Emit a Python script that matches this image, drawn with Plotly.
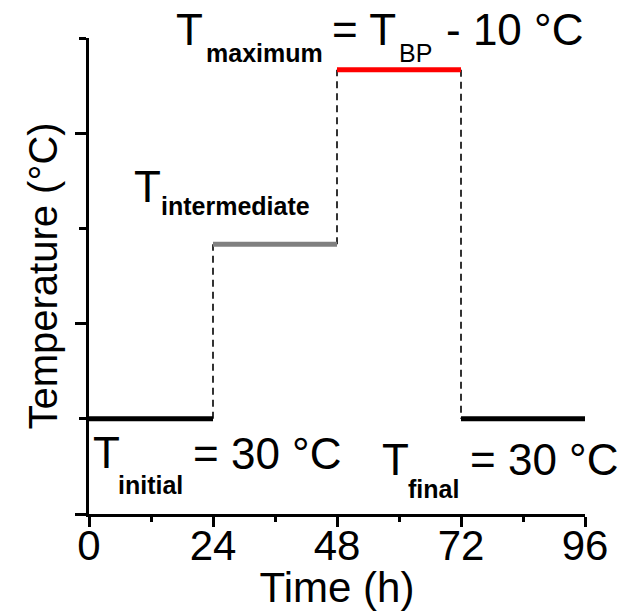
import plotly.graph_objects as go

# ---- data ----
phase_start = [0, 24, 48, 72]
phase_end = [24, 48, 72, 96]
phase_temp = [30, 85, 140, 30]
x_ticks = [0, 24, 48, 72, 96]
x_tick_labels = ["0", "24", "48", "72", "96"]

# ---- styles ----
phase_colors = ["#000000", "#808080", "#ff0000", "#000000"]
FONT = "Liberation Sans, Arial, sans-serif"

W, H = 628, 611
L, R, T, B = 89, 43, 38, 97

fig = go.Figure()

# dashed transitions
for i in range(len(phase_temp) - 1):
    fig.add_trace(go.Scatter(
        x=[phase_end[i], phase_start[i + 1]],
        y=[phase_temp[i], phase_temp[i + 1]],
        mode="lines", line=dict(color="black", width=1.6, dash="7px,5px"),
        showlegend=False, hoverinfo="skip"))

# phases
for i in range(len(phase_temp)):
    fig.add_trace(go.Scatter(
        x=[phase_start[i], phase_end[i]], y=[phase_temp[i], phase_temp[i]],
        mode="lines", line=dict(color=phase_colors[i], width=5),
        showlegend=False, hoverinfo="skip"))


def P(px, py):
    return (px - L) / (W - L - R), (H - B - py) / (H - T - B)


anns = []


def txt(px, py, text, size, bold=False):
    x, y = P(px, py)
    if bold:
        text = "<b>" + text + "</b>"
    anns.append(dict(x=x, y=y, xref="paper", yref="paper", text=text,
                     showarrow=False, xanchor="left", yanchor="middle",
                     font=dict(family=FONT, size=size, color="black"),
                     borderpad=0))


BIG, SUB = 44, 25
# T_initial = 30 °C
txt(92, 452, "T", BIG)
txt(117, 485, "initial", SUB, True)
txt(192, 453, "= 30 °C", BIG)
# T_final = 30 °C
txt(381, 459, "T", BIG)
txt(407, 489, "final", SUB, True)
txt(469, 459, "= 30 °C", BIG)
# T_intermediate
txt(133, 186, "T", BIG)
txt(160, 206, "intermediate", SUB, True)
# T_maximum = T_BP - 10 °C
txt(175, 29, "T", BIG)
txt(205, 53, "maximum", SUB, True)
txt(331, 29, "= T", BIG)
txt(398, 53, "BP", SUB)
txt(445, 29, "- 10 °C", BIG)

fig.update_layout(
    width=W, height=H,
    margin=dict(l=L, r=R, t=T, b=B, autoexpand=False),
    paper_bgcolor="white", plot_bgcolor="white",
    font=dict(family=FONT, color="black"),
    annotations=anns,
    xaxis=dict(range=[0, 96], tickvals=x_ticks, ticktext=x_tick_labels,
               automargin=False, ticklabelstandoff=-17,
               showline=True, linewidth=3, linecolor="black",
               ticks="outside", ticklen=10, tickwidth=2.5, tickcolor="black",
               minor=dict(dtick=12, ticks="outside", ticklen=5, tickwidth=2.5,
                          tickcolor="black"),
               showgrid=False, zeroline=False,
               tickfont=dict(size=42, family=FONT),
               title=dict(text="Time (h)", font=dict(size=42, family=FONT),
                          standoff=0)),
    yaxis=dict(range=[0, 150], dtick=60, tick0=0,
               automargin=False,
               showline=True, linewidth=3, linecolor="black",
               ticks="outside", ticklen=11, tickwidth=2.5, tickcolor="black",
               minor=dict(dtick=30, ticks="outside", ticklen=7, tickwidth=2.5,
                          tickcolor="black"),
               showgrid=False, zeroline=False, showticklabels=False,
               title=dict(text="Temperature (°C)", font=dict(size=40, family=FONT),
                          standoff=6)),
)

fig.write_html("out.html", config={"displayModeBar": False},
               post_script="document.body.style.margin='0';")
